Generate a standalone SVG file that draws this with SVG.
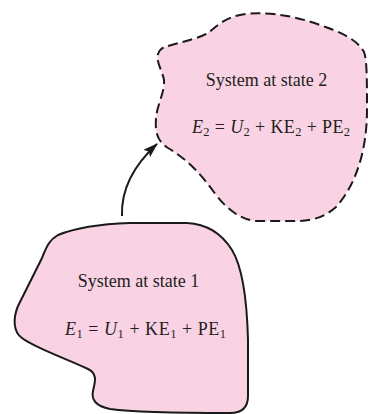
<svg xmlns="http://www.w3.org/2000/svg" width="368" height="414" viewBox="0 0 368 414">
<style>
.sys{fill:#F9D3E4;stroke:#1a1a1a;stroke-width:2;stroke-linejoin:round}
.dash{stroke-dasharray:10 5}
.t{font-family:"Liberation Serif","Times New Roman",serif;font-size:18px;fill:#231F20}
.i{font-style:italic}
.s{font-size:12.5px}
.conn{fill:none;stroke:#1a1a1a;stroke-width:2}
</style>
<defs>
<marker id="ah" markerWidth="15" markerHeight="10" refX="14" refY="5" orient="auto" markerUnits="userSpaceOnUse">
<path d="M0,0 L15,5 L0,10 L3,5 Z" fill="#1a1a1a"/>
</marker>
</defs>
<g id="state1">
<path class="sys" d="M130,223 L187,223 C207,224 222,234 232,250 C243,268 247,300 248,340 L248,396 C248,408 242,413 230,413 C200,413 140,413 110,409 C96,406 91,400 93,391 C95,382 98,374 88,369 C65,358 35,348 22,338 C13,332 13,318 18,306 L42,258 C46,248 49,240 58,235 C75,228 100,224 130,223 Z"/>
<text class="t" x="138.5" y="287" text-anchor="middle">System at state 1</text>
<text class="t" x="65" y="335" textLength="161" lengthAdjust="spacing"><tspan class="i">E</tspan><tspan class="s" dy="3">1</tspan><tspan dy="-3"> = </tspan><tspan class="i">U</tspan><tspan class="s" dy="3">1</tspan><tspan dy="-3"> + KE</tspan><tspan class="s" dy="3">1</tspan><tspan dy="-3"> + PE</tspan><tspan class="s" dy="3">1</tspan></text>
</g>
<g id="state2">
<path class="sys dash" d="M168,46 C185,41 200,38 208,33 C216,27 224,18 240,15 C260,11 290,14 320,25 C340,32 357,39 364,52 C367,60 367,80 367,110 C367,150 356,185 336,207 C326,216 315,220 300,221 L255,221 C240,219 228,210 216,195 C202,175 188,160 168,148 C157,141 155,132 156,118 C157,105 165,92 164,80 C162,70 156,62 158,54 C160,49 163,47 168,46 Z"/>
<text class="t" x="266.5" y="86" text-anchor="middle">System at state 2</text>
<text class="t" x="192" y="133" textLength="158" lengthAdjust="spacing"><tspan class="i">E</tspan><tspan class="s" dy="3">2</tspan><tspan dy="-3"> = </tspan><tspan class="i">U</tspan><tspan class="s" dy="3">2</tspan><tspan dy="-3"> + KE</tspan><tspan class="s" dy="3">2</tspan><tspan dy="-3"> + PE</tspan><tspan class="s" dy="3">2</tspan></text>
</g>
<g id="connectors">
<path class="conn" d="M122,216 C121,190 133,166 157,144" marker-end="url(#ah)"/>
</g>
</svg>
